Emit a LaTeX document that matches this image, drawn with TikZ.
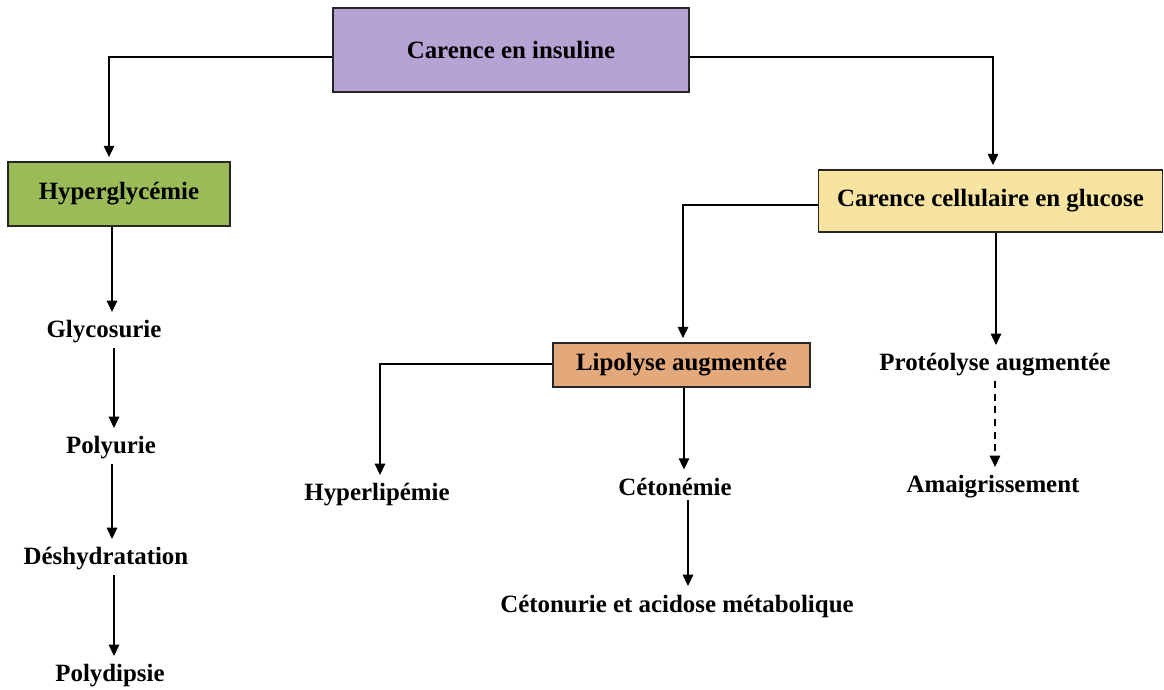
\documentclass[tikz,border=0pt]{standalone}
\usepackage{fontspec}
\setmainfont{Liberation Serif}
\usetikzlibrary{arrows.meta}

\definecolor{boxpurple}{RGB}{180,163,211}
\definecolor{boxgreen}{RGB}{155,187,89}
\definecolor{boxyellow}{RGB}{246,228,160}
\definecolor{boxorange}{RGB}{228,169,122}

\begin{document}
\begin{tikzpicture}[x=0.025cm, y=-0.025cm,
          font=\fontsize{17.7}{20}\selectfont\bfseries,
          colorbox/.style={rectangle, draw=black!85, line width=1pt, inner sep=0pt},
          plain/.style={inner sep=3pt},
          arr/.style={-{Triangle[length=8pt,width=7.5pt]}, line width=0.8pt, shorten >=3pt},
          dasharr/.style={arr, dashed, dash pattern=on 5pt off 4pt}]

        \useasboundingbox (0,0) rectangle (1164,690);

        \node[colorbox, fill=boxpurple, minimum width=8.9cm, minimum height=2.1cm]
              (insul) at (511,50) {Carence en insuline};
        \node[colorbox, fill=boxgreen, minimum width=5.55cm, minimum height=1.6cm]
              (hyper) at (119,194) {Hyperglycémie};
        \node[colorbox, fill=boxyellow, minimum width=8.6cm, minimum height=1.55cm]
              (cell) at (990.5,201) {Carence cellulaire en glucose};
        \node[colorbox, fill=boxorange, minimum width=6.425cm, minimum height=1.1cm]
              (lipo) at (681.5,365) {Lipolyse augmentée};

        \node[plain] (glyco) at (104,332) {Glycosurie};
        \node[plain] (polyu) at (111,448) {Polyurie};
        \node[plain] (deshy) at (106,559) {Déshydratation};
        \node[plain] (polyd) at (110,676) {Polydipsie};

        \node[plain] (hlip)  at (377,495) {Hyperlipémie};
        \node[plain] (ceto)  at (675,487) {Cétonémie};
        \node[plain] (cetu)  at (677,606) {Cétonurie et acidose métabolique};

        \node[plain] (prot)  at (995,365) {Protéolyse augmentée};
        \node[plain] (amai)  at (993,487) {Amaigrissement};

        % branches from the top box
        \draw[arr] (insul.west |- 0,57) -| (109,0 |- hyper.north);
        \draw[arr] (insul.east |- 0,57) -| (993,0 |- cell.north);

        % left column
        \draw[arr] (hyper.south -| 112,0) -- (glyco.north -| 112,0);
        \draw[arr] (glyco.south -| 114,0) -- (polyu.north -| 114,0);
        \draw[arr] (polyu.south -| 112,0) -- (deshy.north -| 112,0);
        \draw[arr] (deshy.south -| 114,0) -- (polyd.north -| 114,0);

        % cell branch
        \draw[arr] (cell.west |- 0,205) -| (683,0 |- lipo.north);
        \draw[arr] (cell.south -| 996,0) -- (prot.north -| 996,0);
        \draw[dasharr] (prot.south -| 995,0) -- (amai.north -| 995,0);

        % lipolysis branch
        \draw[arr] (lipo.west |- 0,364) -| (380,0 |- hlip.north);
        \draw[arr] (lipo.south -| 684,0) -- (ceto.north -| 684,0);
        \draw[arr] (ceto.south -| 688,0) -- (cetu.north -| 688,0);

      \end{tikzpicture}
\end{document}
